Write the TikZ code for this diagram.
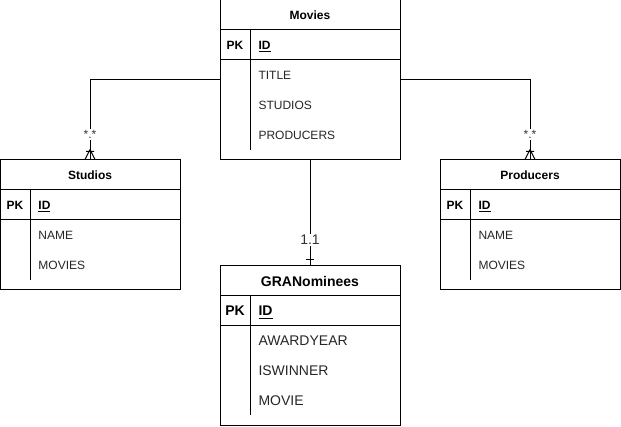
\documentclass[tikz,border=0pt]{standalone}
\usepackage{fontspec}
\setmainfont{Liberation Sans}
\usetikzlibrary{calc}
\begin{document}
\begin{tikzpicture}[x=0.75pt,y=-0.75pt,line width=0.75pt,
  tbl/.style={draw,rectangle,inner sep=0pt,minimum width=135pt},
  ttl/.style={font=\fontsize{9}{10}\selectfont\bfseries},
  ttlbig/.style={font=\fontsize{10.5}{12}\selectfont\bfseries},
  pk/.style={font=\fontsize{9}{10}\selectfont\bfseries},
  pkbig/.style={font=\fontsize{10.5}{12}\selectfont\bfseries},
  fld/.style={anchor=west,inner sep=0pt,text=black!85,font=\fontsize{9}{10}\selectfont},
  fldbig/.style={anchor=west,inner sep=0pt,text=black!85,font=\fontsize{10.5}{12}\selectfont},
  idf/.style={anchor=base west,inner sep=0pt,font=\fontsize{9}{10}\selectfont\bfseries},
  idfbig/.style={anchor=base west,inner sep=0pt,font=\fontsize{10.5}{12}\selectfont\bfseries},
  lbl/.style={fill=white,inner sep=1pt,text=black!80,font=\fontsize{9}{10}\selectfont},
  lblbig/.style={fill=white,inner sep=1pt,text=black!80,font=\fontsize{10.5}{12}\selectfont}]
\useasboundingbox (0,0) rectangle (621,427);

% Movies
\node[tbl,minimum height=120pt] (movies) at (310,80) {};
\draw (220,30) -- (400,30) (220,60) -- (400,60) (250,30) -- (250,150);
\node[ttl] (mt) at (310,15) {Movies};
\node[pk] (mpk) at (235,45) {PK};
\node[idf] (mid) at (258,49.3) {\underline{ID}};
\node[fld] (m1) at (258,75) {TITLE};
\node[fld] (m2) at (258,105) {STUDIOS};
\node[fld] (m3) at (258,135) {PRODUCERS};

% Studios
\node[tbl,minimum height=97.5pt] (studios) at (90,225) {};
\draw (0,190) -- (180,190) (0,220) -- (180,220) (30,190) -- (30,280);
\node[ttl] (st) at (90,175) {Studios};
\node[pk] (spk) at (15,205) {PK};
\node[idf] (sid) at (38,209.3) {\underline{ID}};
\node[fld] (s1) at (38,235) {NAME};
\node[fld] (s2) at (38,265) {MOVIES};

% Producers
\node[tbl,minimum height=97.5pt] (producers) at (530,225) {};
\draw (440,190) -- (620,190) (440,220) -- (620,220) (470,190) -- (470,280);
\node[ttl] (pt) at (530,175) {Producers};
\node[pk] (ppk) at (455,205) {PK};
\node[idf] (pid) at (478,209.3) {\underline{ID}};
\node[fld] (p1) at (478,235) {NAME};
\node[fld] (p2) at (478,265) {MOVIES};

% GRANominees
\node[tbl,minimum height=120pt] (gra) at (310,345.5) {};
\draw (220,295.5) -- (400,295.5) (220,325.5) -- (400,325.5) (250,295.5) -- (250,415.5);
\node[ttlbig] (gt) at (310,281) {GRANominees};
\node[pkbig] (gpk) at (235,311) {PK};
\node[idfbig] (gid) at (258,316) {\underline{ID}};
\node[fldbig] (g1) at (258,341) {AWARDYEAR};
\node[fldbig] (g2) at (258,371) {ISWINNER};
\node[fldbig] (g3) at (258,401) {MOVIE};

% connectors
\draw (movies.west) -| (studios.north) node[lbl,pos=0.84] {*.*};
\draw (movies.east) -| (producers.north) node[lbl,pos=0.84] {*.*};
\draw (movies.south) -- (gra.north) node[lblbig,pos=0.76] {1.1};

% crow's feet (one-to-many)
\foreach \n in {studios,producers}{
  \draw ($(\n.north)+(0,-10)$) -- ($(\n.north)+(-5,0)$)
        ($(\n.north)+(0,-10)$) -- ($(\n.north)+(5,0)$)
        ($(\n.north)+(-4,-8)$) -- ($(\n.north)+(4,-8)$);
}
% one bar
\draw ($(gra.north)+(-4,-5)$) -- ($(gra.north)+(4,-5)$);
\end{tikzpicture}
\end{document}
